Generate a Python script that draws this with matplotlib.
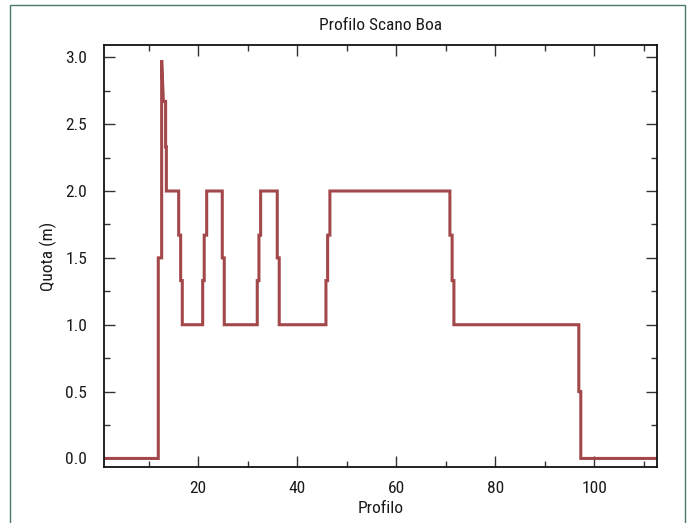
import matplotlib
matplotlib.use("Agg")
import matplotlib.pyplot as plt
from matplotlib.patches import Rectangle
from matplotlib.ticker import MultipleLocator, FormatStrFormatter
from matplotlib import font_manager

# Profile vertices (distance along profile, elevation in m)
distanza = [1.0, 11.92, 11.92, 12.6, 12.6, 12.95, 13.4, 13.4, 13.55, 13.55,
            16.04, 16.04, 16.44, 16.44, 16.77, 16.77, 20.89, 20.89, 21.2, 21.2,
            21.7, 21.7, 24.85, 24.85, 25.25, 25.25, 31.92, 31.92, 32.26, 32.26,
            32.6, 32.6, 35.96, 35.96, 36.36, 36.36, 45.8, 45.8, 46.14, 46.14,
            46.6, 46.6, 70.85, 70.85, 71.3, 71.3, 71.66, 71.66, 96.9, 96.9,
            97.3, 97.3, 112.7]
quota = [0.0, 0.0, 1.5, 1.5, 2.98, 2.67, 2.67, 2.33, 2.33, 2.0,
         2.0, 1.67, 1.67, 1.33, 1.33, 1.0, 1.0, 1.33, 1.33, 1.67,
         1.67, 2.0, 2.0, 1.5, 1.5, 1.0, 1.0, 1.33, 1.33, 1.67,
         1.67, 2.0, 2.0, 1.5, 1.5, 1.0, 1.0, 1.33, 1.33, 1.67,
         1.67, 2.0, 2.0, 1.67, 1.67, 1.33, 1.33, 1.0, 1.0, 0.5,
         0.5, 0.0, 0.0]

title = "Profilo Scano Boa"
xlabel = "Profilo"
ylabel = "Quota (m)"

# pick a condensed face if one is installed
names = {f.name for f in font_manager.fontManager.ttflist}
family = 'DejaVu Sans'
for cand in ['Liberation Sans Narrow', 'DejaVu Sans Condensed', 'Roboto Condensed',
             'Open Sans Condensed']:
    if cand in names:
        family = cand
        break
plt.rcParams['font.family'] = [family, 'DejaVu Sans']
plt.rcParams['font.stretch'] = 'condensed'

fig = plt.figure(figsize=(6.95, 5.23), dpi=100)
fig.patches.append(Rectangle((10/695, -0.01), 675/695, 1 - 5/523 + 0.01,
                             transform=fig.transFigure, fill=False,
                             edgecolor='#4a7a66', linewidth=1.0))
ax = fig.add_axes([104/695, 1 - 467/523, (657-104)/695, (467-45)/523])

ax.plot(distanza, quota, color='#a3484a', linewidth=2.2, solid_joinstyle='miter')

ax.set_xlim(0.95, 112.7)
ax.set_ylim(-0.064, 3.092)
ax.xaxis.set_major_locator(MultipleLocator(20))
ax.xaxis.set_minor_locator(MultipleLocator(10))
ax.yaxis.set_major_locator(MultipleLocator(0.5))
ax.yaxis.set_minor_locator(MultipleLocator(0.25))
ax.yaxis.set_major_formatter(FormatStrFormatter('%.1f'))

ax.tick_params(which='both', direction='in', top=True, right=True,
               color='#333333', labelsize=12.5, labelcolor='#1a1a1a')
ax.tick_params(which='major', length=8, width=1.0)
ax.tick_params(which='minor', length=4.5, width=1.0)
ax.tick_params(axis='y', pad=12)
ax.tick_params(axis='x', pad=10)
for s in ax.spines.values():
    s.set_linewidth(1.3)
    s.set_color('#111111')

ax.set_title(title, fontsize=12.5, pad=11, color='#1a1a1a')
ax.set_xlabel(xlabel, fontsize=12.5, labelpad=4, color='#1a1a1a')
ax.set_ylabel(ylabel, fontsize=12.5, labelpad=6, color='#1a1a1a')

fig.savefig("out.png", dpi=100)
